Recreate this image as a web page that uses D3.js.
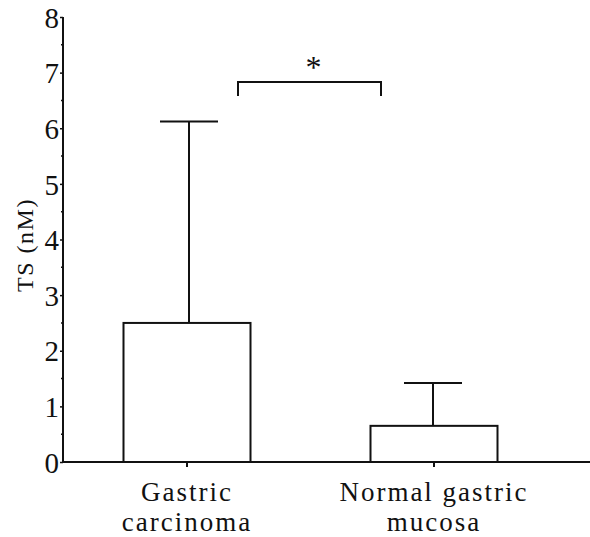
<!DOCTYPE html>
<html>
<head>
<meta charset="utf-8">
<script src="https://cdn.jsdelivr.net/npm/d3@7"></script>
<style>
  body { margin: 0; background: #fff; }
  text { font-family: "Liberation Serif", "DejaVu Serif", serif; fill: #111; }
</style>
</head>
<body>
<div id="chart"></div>
<script>
// Data
var categories = ["Gastric carcinoma", "Normal gastric mucosa"];
var labelLines = [["Gastric", "carcinoma"], ["Normal gastric", "mucosa"]];
var means = [2.5, 0.65];
var upperErr = [6.12, 1.42];
var yTicks = [0, 1, 2, 3, 4, 5, 6, 7, 8];

var svgW = 590, svgH = 537;
var x0 = 63, xEnd = 590, y0 = 462, yTop = 17;

var svg = d3.select("#chart").append("svg")
  .attr("width", svgW)
  .attr("height", svgH);

// Scales
var yScale = d3.scaleLinear().domain([0, 8]).range([y0, yTop]);
var xScale = d3.scalePoint().domain(categories).range([63.5, 557.5]).padding(0.5);
var barW = 127;

// Y axis, major
var yAxis = d3.axisLeft(yScale).tickValues(yTicks).tickSize(3).tickPadding(1).tickFormat(d3.format("d"));
var gy = svg.append("g").attr("transform", "translate(" + x0 + ",0)").call(yAxis);
gy.attr("font-family", null);
gy.select(".domain").attr("stroke", "#111").attr("stroke-width", 2).attr("d", "M0," + yTop + "V" + y0);
gy.selectAll(".tick line").attr("stroke", "#111").attr("stroke-width", 1.5);
gy.selectAll(".tick text").style("font-size", "29px").attr("dy", "0.35em")
  .style("font-family", "'Liberation Serif', serif").attr("fill", "#111");

// Y axis, minor
var minor = d3.range(0.5, 8, 1);
svg.append("g").selectAll("line").data(minor).enter().append("line")
  .attr("x1", x0 - 2).attr("x2", x0)
  .attr("y1", d => yScale(d)).attr("y2", d => yScale(d))
  .attr("stroke", "#111").attr("stroke-width", 1.5);

// X axis
svg.append("line").attr("x1", x0).attr("x2", xEnd).attr("y1", y0).attr("y2", y0)
  .attr("stroke", "#111").attr("stroke-width", 2);
svg.append("g").selectAll("line").data(categories).enter().append("line")
  .attr("x1", d => xScale(d)).attr("x2", d => xScale(d))
  .attr("y1", y0).attr("y2", y0 + 5)
  .attr("stroke", "#111").attr("stroke-width", 2);

// Error bars
var err = svg.append("g");
categories.forEach(function (c, i) {
  var cx = xScale(c) + (i === 0 ? 2 : -1);
  err.append("line").attr("x1", cx).attr("x2", cx)
    .attr("y1", yScale(means[i])).attr("y2", yScale(upperErr[i]))
    .attr("stroke", "#111").attr("stroke-width", 2);
  err.append("line").attr("x1", cx - 29).attr("x2", cx + 29)
    .attr("y1", yScale(upperErr[i])).attr("y2", yScale(upperErr[i]))
    .attr("stroke", "#111").attr("stroke-width", 2);
});

// Bars
svg.append("g").selectAll("rect").data(categories).enter().append("rect")
  .attr("x", d => xScale(d) - barW / 2)
  .attr("width", barW)
  .attr("y", (d, i) => yScale(means[i]))
  .attr("height", (d, i) => y0 - yScale(means[i]))
  .attr("fill", "#fff")
  .attr("stroke", "#111")
  .attr("stroke-width", 2);

// X labels
labelLines.forEach(function (lines, i) {
  var t = svg.append("text")
    .attr("x", xScale(categories[i]))
    .attr("text-anchor", "middle")
    .style("font-size", "27px")
    .style("letter-spacing", "2px");
  lines.forEach(function (s, j) {
    t.append("tspan").attr("x", xScale(categories[i])).attr("y", 501 + j * 30).text(s);
  });
});

// Y label
svg.append("text")
  .attr("transform", "translate(33," + 245 + ") rotate(-90)")
  .attr("text-anchor", "middle")
  .style("font-size", "24px")
  .style("letter-spacing", "1.5px")
  .text("TS (nM)");

// Significance bracket
var bx1 = 238, bx2 = 381, by = yScale(6.83), byLeg = yScale(6.58);
svg.append("path")
  .attr("d", "M" + bx1 + "," + byLeg + "V" + by + "H" + bx2 + "V" + byLeg)
  .attr("fill", "none").attr("stroke", "#111").attr("stroke-width", 2);
svg.append("text")
  .attr("x", (bx1 + bx2) / 2 + 4)
  .attr("y", 78)
  .attr("text-anchor", "middle")
  .style("font-size", "32px")
  .text("*");
</script>
</body>
</html>
